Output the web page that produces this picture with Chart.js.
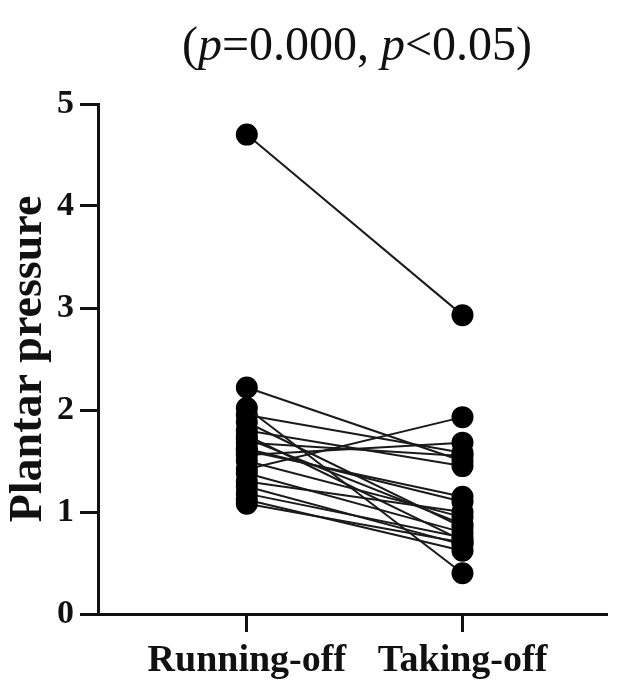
<!DOCTYPE html>
<html>
<head>
<meta charset="utf-8">
<script src="https://cdn.jsdelivr.net/npm/chart.js@4"></script>
<style>
  html, body { margin: 0; padding: 0; background: #fff; }
</style>
</head>
<body>
<canvas id="chart" width="619" height="692"></canvas>
<script>
const categories = ["Running-off", "Taking-off"];
// each subject: value at running-off, value at taking-off
const runningOff = [4.70, 2.22, 2.02, 1.95, 1.88, 1.80, 1.75, 1.72, 1.68, 1.62, 1.60, 1.56, 1.50, 1.42, 1.38, 1.30, 1.25, 1.18, 1.12, 1.08];
const takingOff  = [2.93, 1.50, 0.40, 1.58, 0.85, 1.45, 0.72, 0.88, 1.55, 1.10, 1.15, 1.68, 0.95, 1.93, 0.80, 1.00, 0.68, 0.75, 0.62, 0.70];
const yTicks = [0, 1, 2, 3, 4, 5];

const serif = "'Liberation Serif', 'Times New Roman', serif";

const datasets = runningOff.map((v, i) => ({
  data: [{ x: 1, y: v }, { x: 2, y: takingOff[i] }],
  borderColor: "#1a1a1a",
  borderWidth: 2,
  backgroundColor: "#000",
  pointBackgroundColor: "#000",
  pointBorderColor: "#000",
  pointRadius: 10,
  clip: false,
}));

// title with italic p
const titlePlugin = {
  id: "pTitle",
  afterDraw(chart) {
    const ctx = chart.ctx;
    const parts = [
      ["(", false], ["p", true], ["=0.000, ", false], ["p", true], ["<0.05)", false],
    ];
    const size = 48;
    ctx.save();
    ctx.fillStyle = "#111";
    ctx.textBaseline = "alphabetic";
    let total = 0;
    parts.forEach(([t, it]) => {
      ctx.font = (it ? "italic " : "") + size + "px " + serif;
      total += ctx.measureText(t).width;
    });
    let x = 357 - total / 2;
    parts.forEach(([t, it]) => {
      ctx.font = (it ? "italic " : "") + size + "px " + serif;
      ctx.fillText(t, x, 60);
      x += ctx.measureText(t).width;
    });
    ctx.restore();
  },
};

new Chart(document.getElementById("chart"), {
  type: "line",
  data: { datasets },
  plugins: [titlePlugin],
  options: {
    responsive: false,
    animation: false,
    layout: { padding: { top: 104, right: 9, left: 0, bottom: 0 } },
    plugins: { legend: { display: false }, tooltip: { enabled: false } },
    scales: {
      x: {
        type: "linear",
        min: 0.31,
        max: 2.67,
        afterBuildTicks(scale) {
          scale.ticks = categories.map((c, i) => ({ value: i + 1 }));
        },
        afterFit(scale) { scale.height = 78; },
        border: { display: true, color: "#111", width: 3 },
        grid: { drawOnChartArea: false, drawTicks: true, tickLength: 18, tickColor: "#111", tickWidth: 3 },
        ticks: {
          callback: (v) => categories[v - 1] || "",
          color: "#111",
          padding: 6,
          maxRotation: 0,
          autoSkip: false,
          font: { family: serif, size: 38, weight: "bold" },
        },
      },
      y: {
        min: 0,
        max: 5,
        afterBuildTicks(scale) {
          scale.ticks = yTicks.map((v) => ({ value: v }));
        },
        afterFit(scale) { scale.width = 98; },
        border: { display: true, color: "#111", width: 3 },
        grid: { drawOnChartArea: false, drawTicks: true, tickLength: 18, tickColor: "#111", tickWidth: 3 },
        ticks: {
          color: "#111",
          padding: 6,
          font: { family: serif, size: 34, weight: "bold" },
        },
        title: {
          display: true,
          text: "Plantar pressure",
          color: "#111",
          padding: { top: 2, bottom: 0 },
          font: { family: serif, size: 46, weight: "bold" },
        },
      },
    },
  },
});
</script>
</body>
</html>
